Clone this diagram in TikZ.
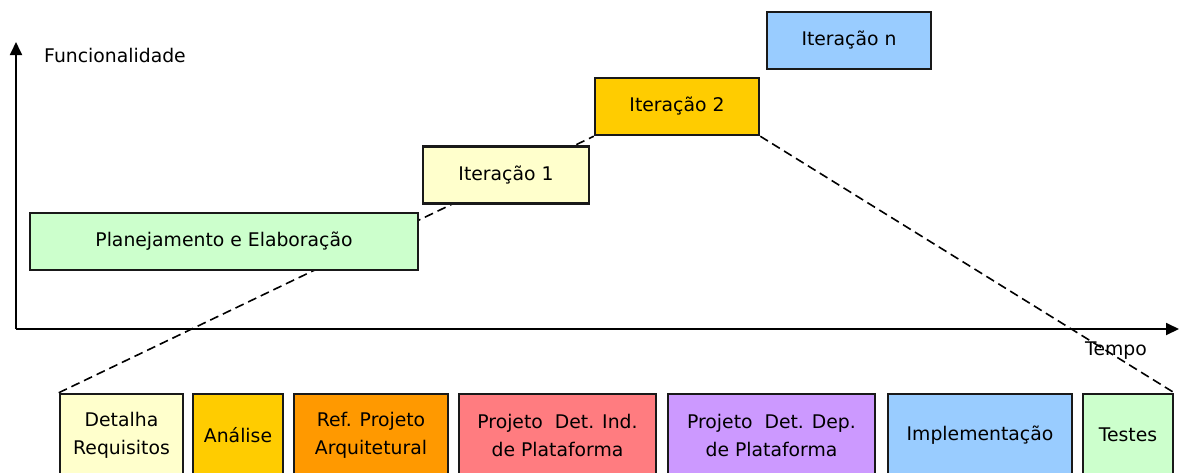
\documentclass[tikz,border=0pt]{standalone}
\usepackage{fontspec}
\setmainfont{DejaVu Sans}
\usetikzlibrary{arrows.meta,backgrounds}
\definecolor{cgreen}{HTML}{CCFFCC}
\definecolor{cyellow}{HTML}{FFFFCC}
\definecolor{cgold}{HTML}{FFCC00}
\definecolor{cblue}{HTML}{99CCFF}
\definecolor{corange}{HTML}{FF9900}
\definecolor{csalmon}{HTML}{FF7C80}
\definecolor{clav}{HTML}{CC99FF}
\begin{document}
\begin{tikzpicture}[x=1pt,y=-1pt,
  every node/.style={font=\fontsize{18.8}{28}\selectfont, inner sep=0pt, align=center},
  phase/.style={draw=black!90, line width=2.5pt, rectangle},
  iterbox/.style={phase, minimum height=57pt},
  stagebox/.style={phase, minimum height=82pt},
  axis/.style={line width=1.8pt, -{Triangle[length=13pt,width=12pt]}},
  link/.style={line width=1.6pt, dash pattern=on 9pt off 5pt}]
\useasboundingbox (0,0) rectangle (1180,472);
\clip (0,0) rectangle (1180,472);
% axes
\coordinate (O) at (16,329);
\coordinate (ytip) at (16,42);
\coordinate (xtip) at (1179,329);
\draw[axis] (O) -- (ytip);
\draw[axis] (O) -- (xtip);
\node (func) at (115,55) {Funcionalidade};
\node (tempo) at (1116,351) {Tempo};
% top boxes
\node[iterbox, fill=cgreen, minimum width=388pt] (plan) at (224,241.5) {Planejamento e Elaboração};
\node[iterbox, fill=cyellow, minimum width=166pt] (it1) at (506,175) {Iteração 1};
\node[iterbox, fill=cgold, minimum width=164pt] (it2) at (677,106.5) {Iteração 2};
\node[iterbox, fill=cblue, minimum width=164pt] (itn) at (849,40.5) {Iteração n};
% bottom boxes
\node[stagebox, fill=cyellow, minimum width=123pt] (det) at (121.5,435) {Detalha\\Requisitos};
\node[stagebox, fill=cgold, minimum width=90pt] (ana) at (238,435) {Análise};
\node[stagebox, fill=corange, minimum width=154pt] (ref) at (371,435) {Ref. Projeto\\Arquitetural};
\node[stagebox, fill=csalmon, minimum width=197pt] (pdi) at (557.5,435) {Projeto~ Det. Ind.\\de Plataforma};
\node[stagebox, fill=clav, minimum width=207pt] (pdd) at (771.5,435) {Projeto~ Det. Dep.\\de Plataforma};
\node[stagebox, fill=cblue, minimum width=184pt] (imp) at (980,435) {Implementação};
\node[stagebox, fill=cgreen, minimum width=90pt] (tes) at (1128,435) {Testes};
% dashed connectors behind boxes
\begin{scope}[on background layer]
\draw[link] (det.north west) -- (it2.south west);
\draw[link] (it2.south east) -- (tes.north east);
\end{scope}
\end{tikzpicture}
\end{document}
